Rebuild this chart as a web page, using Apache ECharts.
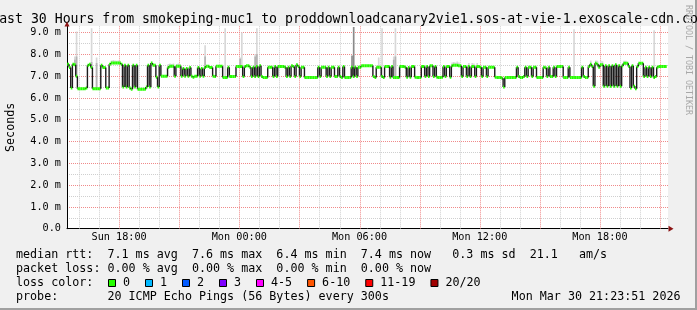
<!DOCTYPE html>
<html><head><meta charset="utf-8">
<script src="https://cdn.jsdelivr.net/npm/echarts@6/dist/echarts.min.js"></script>
<style>html,body{margin:0;padding:0;background:#f0f0f0;overflow:hidden}#c{width:697px;height:310px}</style>
</head><body><div id="c"></div>
<script>
// ---------- data ----------
const STEP_MS = 300000;
const HOUR_MS = 3600000;
const END_MS = Date.UTC(2026, 2, 30, 21, 23, 51);
const START_MS = END_MS - 30 * HOUR_MS;
const FIRST_SAMPLE_MS = Date.UTC(2026, 2, 29, 15, 25, 0);

// median rtt per 5-minute step (ms)
const medianMs = [
7.55,7.55,7.40,6.45,7.55,7.52,7.00,6.42,6.42,6.42,
6.42,6.42,6.45,7.50,7.55,7.40,6.42,6.42,6.42,6.42,
6.42,7.50,7.40,7.40,6.45,6.45,7.55,7.60,7.60,7.60,
7.60,7.60,7.60,7.55,6.50,7.50,6.50,7.50,6.45,6.40,
7.50,6.50,7.50,6.40,6.40,6.40,6.40,6.40,6.50,7.50,
6.50,7.60,7.50,7.50,6.95,6.50,7.50,7.00,7.00,7.00,
7.00,7.40,7.45,7.45,7.45,7.00,7.45,7.45,7.45,7.00,
7.35,7.00,7.35,7.00,7.40,7.00,6.95,7.00,7.00,7.40,
7.00,7.35,7.00,7.40,7.45,7.45,7.40,7.40,7.00,6.98,
7.45,7.45,7.45,7.45,6.94,6.94,6.94,7.41,6.98,6.98,
6.98,6.98,7.44,7.44,7.44,7.44,6.98,7.44,7.48,7.48,
7.41,6.98,7.41,6.98,7.44,6.98,7.48,6.98,6.94,6.94,
6.94,7.41,7.41,7.41,6.98,7.44,6.98,7.44,7.44,7.44,
7.44,7.41,6.98,7.41,6.98,7.48,7.44,6.98,7.52,7.44,
6.98,7.41,7.41,6.94,6.94,6.94,6.94,6.94,6.94,6.94,
6.94,7.41,6.98,7.41,7.41,7.41,6.98,7.41,6.98,7.41,
7.41,6.98,6.98,7.41,6.98,6.94,7.44,6.94,6.94,6.94,
6.94,7.41,6.98,7.41,6.98,7.41,7.41,7.48,7.48,7.48,
7.48,7.48,7.48,7.48,6.98,6.94,7.41,7.41,7.41,6.98,
6.94,7.44,7.44,7.44,6.95,7.44,6.94,6.94,6.94,6.94,
7.44,7.44,7.44,7.41,6.95,7.40,6.95,7.44,7.44,6.95,
6.94,6.94,6.94,7.44,7.44,6.98,7.44,6.98,7.48,7.48,
6.98,7.44,6.95,6.94,6.94,6.95,7.44,6.98,7.44,7.44,
6.95,7.48,7.50,7.50,7.50,7.48,7.48,6.98,7.44,7.44,
6.98,7.44,6.98,7.44,7.44,6.98,7.44,7.44,7.41,6.98,
7.41,7.41,6.98,7.41,7.41,7.41,7.41,6.95,6.94,6.94,
6.94,6.90,6.50,6.94,6.94,6.94,6.94,6.94,6.94,6.94,
7.41,6.98,6.94,6.94,6.98,7.41,6.98,7.41,7.41,6.98,
7.41,7.41,6.94,6.94,6.94,6.94,7.41,7.38,6.98,7.41,
6.98,6.98,7.41,6.98,7.44,7.44,7.44,7.44,6.94,6.94,
6.94,7.41,6.94,6.94,6.94,6.94,6.94,6.94,6.94,7.41,
6.98,6.94,6.94,7.44,7.55,7.44,6.53,7.59,7.55,7.41,
7.52,7.52,6.53,7.48,6.53,7.48,6.53,7.48,6.53,7.52,
6.53,7.48,6.53,7.48,7.59,7.59,7.59,7.44,6.45,7.48,
6.53,6.42,7.44,7.59,7.59,7.59,6.98,7.41,6.98,7.41,
6.98,7.41,6.94,6.98,7.41,7.44,7.44,7.44,7.44,7.44
];

// smoke (ping spread) per step: index of step and top of the band (ms)
const lightSmokeIdx = [5,6,15,18,27,28,29,30,31,32,61,62,63,64,66,67,68,83,95,104,105,113,114,187,189,196,197,231,232,233,234,235,241,243,244,246,304,314,317,318,320,321,334,335,352];
const lightSmokeTop = [7.9,9.05,9.2,7.85,7.72,7.74,7.72,7.7,7.72,7.7,7.56,7.58,7.56,7.58,7.56,7.58,7.56,8.42,9.2,7.85,9.0,8.0,9.2,7.85,9.2,7.9,9.2,7.62,7.65,7.62,7.67,7.62,7.6,7.6,7.58,7.6,9.15,7.72,7.72,7.7,7.7,7.68,7.7,7.7,9.1];
const midSmokeIdx = [5,6,15,18,83,104,113,114,196,197];
const midSmokeTop = [7.75,7.9,7.65,7.6,7.9,7.8,7.9,8.0,7.75,7.9];
const darkSmokeIdx = [171,172];
const darkSmokeTop = [7.95,9.25];

// axis ticks
const yTickValues = [0,1,2,3,4,5,6,7,8,9];
const yTickLabels = ['0.0','1.0 m','2.0 m','3.0 m','4.0 m','5.0 m','6.0 m','7.0 m','8.0 m','9.0 m'];
const xTickTimes = [Date.UTC(2026,2,29,18), Date.UTC(2026,2,30,0), Date.UTC(2026,2,30,6), Date.UTC(2026,2,30,12), Date.UTC(2026,2,30,18)];
const xTickLabels = ['Sun 18:00','Mon 00:00','Mon 06:00','Mon 12:00','Mon 18:00'];

// legend
const lossLabels = ['0','1','2','3','4-5','6-10','11-19','20/20'];
const titleText = 'Last 30 Hours from smokeping-muc1 to proddownloadcanary2vie1.sos-at-vie-1.exoscale-cdn.com';
const legendRows = [
  'median rtt:  7.1 ms avg  7.6 ms max  6.4 ms min  7.4 ms now   0.3 ms sd  21.1   am/s',
  'packet loss: 0.00 % avg  0.00 % max  0.00 % min  0.00 % now',
  'loss color:',
  'probe:       20 ICMP Echo Pings (56 Bytes) every 300s'
];
const stampText = 'Mon Mar 30 21:23:51 2026';
const credit = 'RRDTOOL / TOBI OETIKER';

// ---------- styles ----------
const LOSS_COLORS = ['#26ff00','#00b8ff','#0059ff','#7e00ff','#ff00ff','#ff5500','#ff0000','#a00000'];
const MONO = '"DejaVu Sans Mono", monospace';
const GRID_MINOR = '#cfcfcf';
const GRID_MAJOR = '#f08a8a';
const ARROW = '#8c1414';

// vertical grid: every whole hour inside the time range (major every 3 h)
const gridHours = [];
for (let t = Math.ceil(START_MS / HOUR_MS) * HOUR_MS; t < END_MS; t += HOUR_MS) gridHours.push([t]);

const sampleTime = i => FIRST_SAMPLE_MS + i * STEP_MS;
const medianData = medianMs.map((v, i) => [sampleTime(i), v, i ? medianMs[i - 1] : v]);
const smokeData = (idx, top) => idx.map((k, j) => [sampleTime(k), medianMs[k] - 0.04, top[j]]);

function smokeSeries(data, color) {
  return {
    type: 'custom', clip: true, silent: true, data: data, encode: {x: 0, y: 2},
    renderItem: (params, api) => {
      const a = api.coord([api.value(0) - STEP_MS, api.value(1)]);
      const b = api.coord([api.value(0), api.value(2)]);
      return {type: 'rect', shape: {x: a[0], y: b[1], width: b[0] - a[0], height: a[1] - b[1]}, style: {fill: color}};
    }
  };
}

function txt(s, x, y, font, extra) {
  return Object.assign({type: 'text', x: x, y: y, silent: true,
    style: {text: s, font: font, fill: '#000', align: 'left', verticalAlign: 'middle', textAlign: 'left', textVerticalAlign: 'middle'}}, extra || {});
}

const LEG_FONT = '11.7px ' + MONO;
const graphics = [];
graphics.push({type: 'rect', x: 0, y: 308, shape: {x: 0, y: 0, width: 697, height: 2}, style: {fill: '#a0a0a0'}, silent: true});
graphics.push({type: 'rect', x: 695, y: 0, shape: {x: 0, y: 0, width: 2, height: 310}, style: {fill: '#a0a0a0'}, silent: true});
graphics.push({type: 'text', x: 348.5, y: 19.5, silent: true, style: {text: titleText, font: '13.2px ' + MONO, fill: '#000', align: 'center', textAlign: 'center', verticalAlign: 'middle', textVerticalAlign: 'middle'}});
const rowY = [254.5, 268.5, 282.5, 296.5];
legendRows.forEach((r, k) => graphics.push(txt(r, 16, rowY[k], LEG_FONT)));
graphics.push({type: 'text', x: 680.5, y: rowY[3], silent: true, style: {text: stampText, font: LEG_FONT, fill: '#000', align: 'right', textAlign: 'right', verticalAlign: 'middle', textVerticalAlign: 'middle'}});
let bx = 108;
lossLabels.forEach((lab, k) => {
  graphics.push({type: 'rect', silent: true, shape: {x: bx + 0.5, y: 279.5, width: 7, height: 7}, style: {fill: LOSS_COLORS[k], stroke: '#000', lineWidth: 1}});
  graphics.push(txt(lab, bx + 15, rowY[2], LEG_FONT));
  bx += 37 + 7.05 * (lab.length - 1);
});
graphics.push({type: 'text', x: 688.5, y: 60, rotation: -Math.PI / 2, silent: true,
  style: {text: credit, font: '8.3px ' + MONO, fill: '#a8a8a8', align: 'center', textAlign: 'center', verticalAlign: 'middle', textVerticalAlign: 'middle'}});

const chart = echarts.init(document.getElementById('c'), null, {renderer: 'canvas'});
chart.setOption({
  useUTC: true,
  animation: false,
  backgroundColor: '#f0f0f0',
  grid: {left: 67, right: 29, top: 26, bottom: 81.3, show: true, backgroundColor: '#ffffff', borderWidth: 0,
    containLabel: false, outerBoundsMode: 'none'},
  xAxis: [{
    type: 'time', min: START_MS, max: END_MS, splitNumber: 30, minInterval: HOUR_MS, maxInterval: HOUR_MS,
    axisLine: {show: true, lineStyle: {color: '#000', width: 1}},
    axisTick: {show: false},
    axisLabel: {color: '#000', fontFamily: MONO, fontSize: 10.2, margin: 4, hideOverlap: false,
      formatter: v => { const k = xTickTimes.indexOf(v); return k >= 0 ? xTickLabels[k] : ''; }},
    splitLine: {show: false}
  }, {
    type: 'time', min: START_MS, max: END_MS, position: 'bottom',
    axisLine: {show: true, symbol: ['none', 'triangle'], symbolSize: [6, 5], symbolOffset: [0, 3], lineStyle: {color: ARROW, width: 0}},
    axisTick: {show: false}, axisLabel: {show: false}, splitLine: {show: false}
  }],
  yAxis: [{
    type: 'value', min: 0, max: 9.3, interval: 0.5,
    axisLine: {show: true, lineStyle: {color: '#000', width: 1}},
    axisTick: {show: false},
    axisLabel: {color: '#000', fontFamily: MONO, fontSize: 10.2, margin: 6, showMaxLabel: false,
      formatter: v => { const k = yTickValues.findIndex(t => Math.abs(t - v) < 1e-9); return k >= 0 ? yTickLabels[k] : ''; }},
    splitLine: {show: true, showMinLine: false, showMaxLine: false, lineStyle: {color: [GRID_MINOR, GRID_MAJOR], type: [1, 1], width: 1}},
    name: 'Seconds', nameLocation: 'middle', nameGap: 50, nameRotate: 90,
    nameTextStyle: {color: '#000', fontFamily: MONO, fontSize: 11.7}
  }, {
    type: 'value', min: 0, max: 9.3, position: 'left',
    axisLine: {show: true, symbol: ['none', 'triangle'], symbolSize: [5, 5], symbolOffset: [0, 2], lineStyle: {color: ARROW, width: 0}},
    axisTick: {show: false}, axisLabel: {show: false}, splitLine: {show: false}
  }],
  series: [
    {
      type: 'custom', clip: true, silent: true, z: 1, data: gridHours, encode: {x: 0},
      renderItem: (params, api) => {
        const t = api.value(0);
        const x = Math.round(api.coord([t, 0])[0]) + 0.5;
        const cs = params.coordSys;
        const major = new Date(t).getUTCHours() % 3 === 0;
        return {type: 'line', shape: {x1: x, y1: cs.y + cs.height, x2: x, y2: cs.y},
          style: {stroke: major ? GRID_MAJOR : GRID_MINOR, lineWidth: 1, lineDash: [1, 1]}};
      }
    },
    smokeSeries(smokeData(lightSmokeIdx, lightSmokeTop), '#d8d8d8'),
    smokeSeries(smokeData(midSmokeIdx, midSmokeTop), '#b4b4b4'),
    smokeSeries(smokeData(darkSmokeIdx, darkSmokeTop), '#8a8a8a'),
    {
      type: 'custom', clip: true, silent: true, data: medianData, encode: {x: 0, y: 1},
      renderItem: (params, api) => {
        const t = api.value(0), v = api.value(1), pv = api.value(2);
        const a = api.coord([t - STEP_MS, v]);
        const b = api.coord([t, v]);
        const p = api.coord([t - STEP_MS, pv]);
        return {type: 'group', children: [
          {type: 'line', shape: {x1: a[0], y1: p[1], x2: a[0], y2: a[1]}, style: {stroke: '#1c1c1c', lineWidth: 1.4}},
          {type: 'rect', shape: {x: a[0], y: a[1] - 1.5, width: b[0] - a[0], height: 3}, style: {fill: LOSS_COLORS[0]}}
        ]};
      }
    }
  ],
  graphic: graphics
});
</script>
</body></html>
